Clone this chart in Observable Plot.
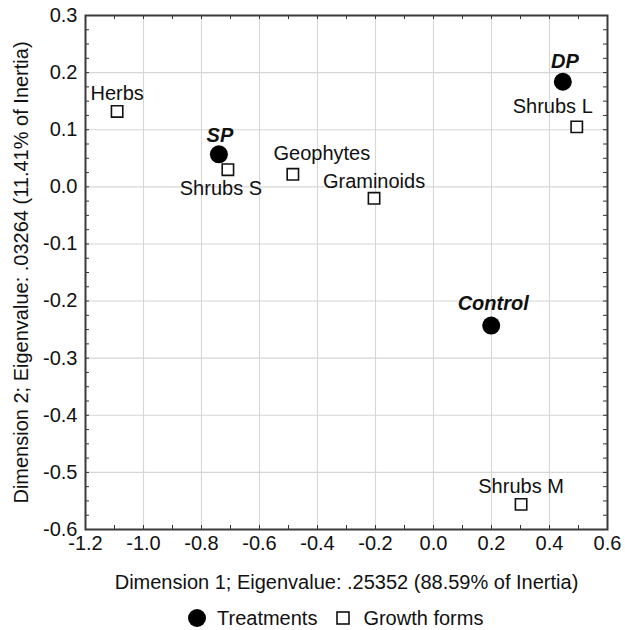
<!DOCTYPE html>
<html>
<head>
<meta charset="utf-8">
<script src="https://cdn.jsdelivr.net/npm/d3@7"></script>
<script src="https://cdn.jsdelivr.net/npm/@observablehq/plot@0.6"></script>
<style>
  body { margin: 0; background: #fff; font-family: "Liberation Sans", Arial, sans-serif; }
  #legend { display: flex; align-items: center; height: 36px; padding-left: 186px; font-size: 20px; color: #111; }
  #legend span { margin-right: 10px; }
</style>
</head>
<body>
<div id="chart"></div>
<div id="legend"></div>
<script>
// ---- data ----
const treatNames = ["SP", "DP", "Control"];
const treatX = [-0.74, 0.446, 0.199];
const treatY = [0.057, 0.184, -0.243];

const growthNames = ["Herbs", "Shrubs S", "Geophytes", "Graminoids", "Shrubs L", "Shrubs M"];
const growthX = [-1.091, -0.709, -0.485, -0.205, 0.494, 0.302];
const growthY = [0.132, 0.030, 0.022, -0.020, 0.105, -0.556];

const xTicks = [-1.2, -1.0, -0.8, -0.6, -0.4, -0.2, 0.0, 0.2, 0.4, 0.6];
const yTicks = [-0.6, -0.5, -0.4, -0.3, -0.2, -0.1, 0.0, 0.1, 0.2, 0.3];
const xLabel = "Dimension 1; Eigenvalue: .25352 (88.59% of Inertia)";
const yLabel = "Dimension 2; Eigenvalue: .03264 (11.41% of Inertia)";
const legendLabels = ["Treatments", "Growth forms"];

// ---- label placement (styling, pixel offsets) ----
const labelOffset = {
  "SP": [1, -19], "DP": [2, -20], "Control": [2, -22],
  "Herbs": [0, -18], "Shrubs S": [-7, 19], "Geophytes": [29, -21],
  "Graminoids": [0, -17], "Shrubs L": [-24, -20], "Shrubs M": [0, -18]
};

const treatments = treatNames.map((n, i) => ({name: n, x: treatX[i], y: treatY[i]}));
const growth = growthNames.map((n, i) => ({name: n, x: growthX[i], y: growthY[i]}));

// minor tick positions
const xMinor = d3.range(0, 19).map(i => +(-1.2 + i * 0.1).toFixed(3));
const yMinor = d3.range(0, 37).map(i => +(-0.6 + i * 0.025).toFixed(4));

const W = 625, H = 600;
const mL = 85, mR = 18, mT = 15, mB = 71;
const pw = W - mL - mR, ph = H - mT - mB;
const tickLen = 4;

const labelMarks = [
  ...treatments.map(d => Plot.text([d], {x: "x", y: "y", text: "name", dx: labelOffset[d.name][0], dy: labelOffset[d.name][1],
    fontWeight: "bold", fontStyle: "italic", fill: "#111", lineAnchor: "middle"})),
  ...growth.map(d => Plot.text([d], {x: "x", y: "y", text: "name", dx: labelOffset[d.name][0], dy: labelOffset[d.name][1],
    fill: "#111", lineAnchor: "middle"}))
];

const chart = Plot.plot({
  width: W, height: H,
  marginLeft: mL, marginRight: mR, marginTop: mT, marginBottom: mB,
  style: {fontFamily: "'Liberation Sans', Arial, sans-serif", fontSize: "20px", color: "#111", background: "#fff"},
  x: {domain: [-1.2, 0.6]},
  y: {domain: [-0.6, 0.3]},
  marks: [
    Plot.gridX(xTicks.slice(1, -1), {stroke: "#d6d6d6", strokeOpacity: 1, strokeWidth: 1.1}),
    Plot.gridY(yTicks.slice(1, -1), {stroke: "#d6d6d6", strokeOpacity: 1, strokeWidth: 1.1}),
    Plot.ruleX(xMinor, {x: d => d, insetTop: ph - tickLen, stroke: "#333"}),
    Plot.ruleX(xMinor, {x: d => d, insetBottom: ph - tickLen, stroke: "#333"}),
    Plot.ruleY(yMinor, {y: d => d, insetRight: pw - tickLen, stroke: "#333"}),
    Plot.ruleY(yMinor, {y: d => d, insetLeft: pw - tickLen, stroke: "#333"}),
    Plot.frame({stroke: "#3a3a3a", strokeWidth: 2}),
    Plot.axisX(xTicks, {tickSize: 0, tickPadding: 6, tickFormat: d => d.toFixed(1),
      label: xLabel, labelAnchor: "center", labelOffset: 59, labelArrow: false}),
    Plot.axisY(yTicks, {tickSize: 0, tickPadding: 8, tickFormat: d => d.toFixed(1),
      label: yLabel, labelAnchor: "center", labelOffset: 72, labelArrow: false}),
    Plot.dot(growth, {x: "x", y: "y", symbol: "square", r: 6.4, stroke: "#111", strokeWidth: 1.6, fill: "white"}),
    Plot.dot(treatments, {x: "x", y: "y", symbol: "circle", r: 9, fill: "#000"}),
    ...labelMarks
  ]
});
document.getElementById("chart").appendChild(chart);

// legend
const lg = document.getElementById("legend");
lg.innerHTML =
  `<svg width="22" height="22" style="margin-right:9px"><circle cx="11" cy="11" r="9" fill="#000"/></svg><span>${legendLabels[0]}</span>` +
  `<svg width="22" height="22" style="margin-right:9px;margin-left:5px"><rect x="5" y="5" width="12" height="12" fill="#fff" stroke="#111" stroke-width="1.6"/></svg><span>${legendLabels[1]}</span>`;
</script>
</body>
</html>
